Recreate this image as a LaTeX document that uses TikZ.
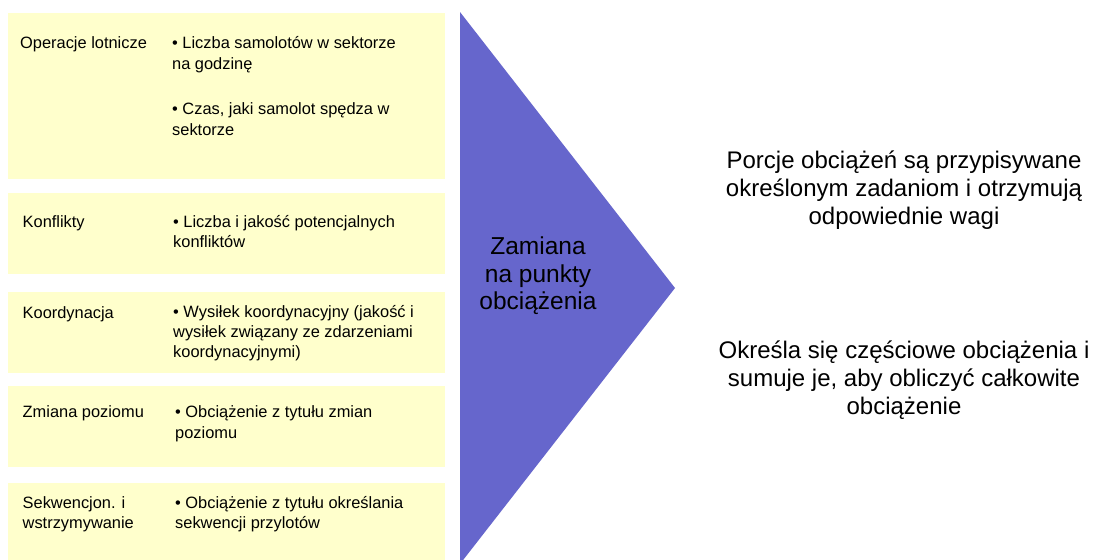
\documentclass[tikz,border=0pt]{standalone}
\usepackage{fontspec}
\setmainfont{Liberation Sans}
\definecolor{rowfill}{HTML}{FFFFCC}
\definecolor{pointfill}{HTML}{6666CC}
\begin{document}
\begin{tikzpicture}[x=1pt,y=-1pt,
  rowbox/.style={fill=rowfill},
  cat/.style={anchor=base west, inner sep=0pt, font=\fontsize{16.4}{20}\selectfont},
  item/.style={anchor=base west, inner sep=0pt, font=\fontsize{16.4}{20}\selectfont},
  mid/.style={anchor=base, inner sep=0pt, font=\fontsize{24.5}{28}\selectfont},
  note/.style={anchor=base, inner sep=0pt, font=\fontsize{24}{28}\selectfont}]
\clip (0,0) rectangle (1096,560);
\fill[white] (0,0) rectangle (1096,560);

% category rows
\path[rowbox] (8,12.5) rectangle (445,179);
\path[rowbox] (8,193) rectangle (445,274);
\path[rowbox] (8,292) rectangle (445,373);
\path[rowbox] (8,386) rectangle (445,467);
\path[rowbox] (8,483) rectangle (445,570);

% row 1
\node[cat]  (c1)  at (20,48)   {Operacje lotnicze};
\node[item] (i1a) at (172,48)  {• Liczba samolotów w sektorze};
\node[item] (i1b) at (172,69)  {na godzinę};
\node[item] (i1c) at (172,114) {• Czas, jaki samolot spędza w};
\node[item] (i1d) at (172,135) {sektorze};

% row 2
\node[cat]  (c2)  at (22.5,227) {Konflikty};
\node[item] (i2a) at (173,227)  {• Liczba i jakość potencjalnych};
\node[item] (i2b) at (173,247)  {konfliktów};

% row 3
\node[cat]  (c3)  at (22.5,318) {Koordynacja};
\node[item] (i3a) at (173,317)  {• Wysiłek koordynacyjny (jakość i};
\node[item] (i3b) at (173,337)  {wysiłek związany ze zdarzeniami};
\node[item] (i3c) at (173,357)  {koordynacyjnymi)};

% row 4
\node[cat]  (c4)  at (22.5,417) {Zmiana poziomu};
\node[item] (i4a) at (175,417)  {• Obciążenie z tytułu zmian};
\node[item] (i4b) at (175,438)  {poziomu};

% row 5
\node[cat]  (c5a) at (22.5,508) {Sekwencjon. i};
\node[cat]  (c5b) at (22.5,528) {wstrzymywanie};
\node[item] (i5a) at (175,508)  {• Obciążenie z tytułu określania};
\node[item] (i5b) at (175,528)  {sekwencji przylotów};

% conversion pointer
\fill[pointfill] (460,12) -- (675,288) -- (460,564) -- cycle;
\node[mid] (m1) at (538,254) {Zamiana};
\node[mid] (m2) at (538,282) {na punkty};
\node[mid] (m3) at (538,309) {obciążenia};

% results
\node[note] (r1a) at (904,168) {Porcje obciążeń są przypisywane};
\node[note] (r1b) at (904,196) {określonym zadaniom i otrzymują};
\node[note] (r1c) at (904,224) {odpowiednie wagi};
\node[note] (r2a) at (904,358) {Określa się częściowe obciążenia i};
\node[note] (r2b) at (904,386) {sumuje je, aby obliczyć całkowite};
\node[note] (r2c) at (904,414) {obciążenie};
\end{tikzpicture}
\end{document}
